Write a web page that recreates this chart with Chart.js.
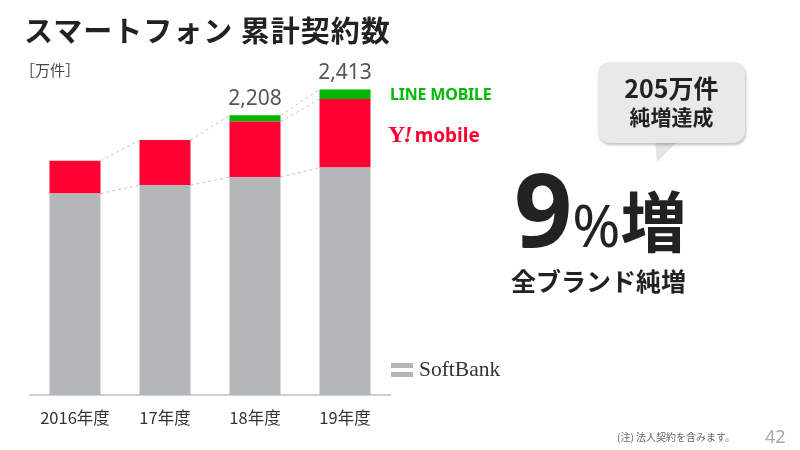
<!DOCTYPE html>
<html><head><meta charset="utf-8">
<script src="https://cdn.jsdelivr.net/npm/chart.js@4/dist/chart.umd.min.js"></script>
<style>
html,body{margin:0;padding:0;background:#fff;}
body{width:800px;height:450px;position:relative;overflow:hidden;font-family:"Noto Sans CJK JP","Noto Sans",sans-serif;color:#222;}
#c{position:absolute;left:0;top:0;}
.t{position:absolute;white-space:nowrap;line-height:1;}
#title{left:24px;top:15px;font-size:29px;font-weight:700;color:#222;letter-spacing:1px;}
#unit{left:20px;top:62px;font-size:15px;color:#444;}
#line{left:390px;top:86px;font-family:"Noto Sans",sans-serif;font-size:16px;font-weight:700;color:#00b900;letter-spacing:-0.2px;}
#ym{left:388px;top:122px;color:#ff0033;}
#ym .y{font-family:"Liberation Serif",serif;font-weight:700;font-size:24px;letter-spacing:-2px;}
#ym .ex{font-family:"Liberation Serif",serif;font-weight:700;font-style:italic;font-size:24px;margin-right:2px;}
#ym .m{font-family:"Noto Sans",sans-serif;font-weight:700;font-size:19px;}
#sbicon{position:absolute;left:391px;top:363px;width:22px;height:5px;background:#b4b7b9;box-shadow:0 9px 0 #b4b7b9;}
#sb{left:419px;top:359px;font-family:"Liberation Serif",serif;font-size:21.5px;color:#333;}
#bubble{position:absolute;left:598px;top:62px;width:147px;height:81px;background:#e9e9e9;border-radius:12px;box-shadow:1px 2px 3px rgba(0,0,0,0.25);}
#tail{position:absolute;left:653px;top:140px;width:26px;height:22px;background:#e4e4e4;clip-path:polygon(2px 0,26px 0,4px 22px);}
#b1{left:598px;width:147px;text-align:center;top:75px;font-size:25px;font-weight:700;color:#222;}
#b2{left:598px;width:147px;text-align:center;top:106px;font-size:21px;font-weight:700;color:#222;}
#big{left:514px;top:157px;font-weight:700;color:#222;font-family:"Noto Sans CJK JP",sans-serif;}
#big .n{font-size:102px;font-family:"Noto Sans",sans-serif;}
#big .p{font-size:58px;font-family:"Noto Sans",sans-serif;font-weight:400;}
#big .z{font-size:66px;}
#sub{left:511px;top:268px;font-size:25px;font-weight:700;color:#222;}
#note{left:617px;top:432px;font-size:10px;color:#666;}
#pg{left:765px;top:427px;font-size:18px;color:#aaa;font-family:"Noto Sans",sans-serif;}
</style></head>
<body>
<canvas id="c" width="800" height="450"></canvas>
<div class="t" id="title">スマートフォン 累計契約数</div>
<div class="t" id="unit">［万件］</div>
<div class="t" id="line">LINE MOBILE</div>
<div class="t" id="ym"><span class="y">Y</span><span class="ex">!</span><span class="m">mobile</span></div>
<div id="sbicon"></div>
<div class="t" id="sb">SoftBank</div>
<div id="tail"></div>
<div id="bubble"></div>
<div class="t" id="b1">205万件</div>
<div class="t" id="b2">純増達成</div>
<div class="t" id="big"><span class="n">9</span><span class="p">%</span><span class="z">増</span></div>
<div class="t" id="sub">全ブランド純増</div>
<div class="t" id="note">(注) 法人契約を含みます。</div>
<div class="t" id="pg">42</div>
<script>
const categories = ['2016年度', '17年度', '18年度', '19年度'];
const softbank = [1591, 1657, 1720, 1796];
const ymobile = [258, 356, 440, 541];
const lineMobile = [0, 0, 48, 76];
const totalLabels = [null, null, '2,208', '2,413'];

const connectors = {
  id: 'connectors',
  beforeDatasetsDraw(chart) {
    const ctx = chart.ctx, y = chart.scales.y;
    const m0 = chart.getDatasetMeta(0).data;
    ctx.save();
    ctx.strokeStyle = '#c4c4c4';
    ctx.lineWidth = 1;
    ctx.setLineDash([3, 3]);
    const seg = (i, v1, v2) => {
      const a = m0[i], b = m0[i + 1];
      ctx.beginPath();
      ctx.moveTo(a.x + a.width / 2, y.getPixelForValue(v1));
      ctx.lineTo(b.x - b.width / 2, y.getPixelForValue(v2));
      ctx.stroke();
    };
    for (let i = 0; i < categories.length - 1; i++) {
      seg(i, softbank[i], softbank[i + 1]);
      seg(i, softbank[i] + ymobile[i] + lineMobile[i], softbank[i + 1] + ymobile[i + 1] + lineMobile[i + 1]);
      if (lineMobile[i] > 0 && lineMobile[i + 1] > 0) {
        seg(i, softbank[i] + ymobile[i], softbank[i + 1] + ymobile[i + 1]);
      }
    }
    ctx.restore();
  },
  afterDatasetsDraw(chart) {
    const ctx = chart.ctx, y = chart.scales.y;
    const m0 = chart.getDatasetMeta(0).data;
    ctx.save();
    ctx.fillStyle = '#555';
    ctx.font = '21px "Noto Sans", sans-serif';
    ctx.textAlign = 'center';
    ctx.textBaseline = 'alphabetic';
    totalLabels.forEach((t, i) => {
      if (!t) return;
      const top = y.getPixelForValue(softbank[i] + ymobile[i] + lineMobile[i]);
      ctx.fillText(t, m0[i].x, top - 10);
    });
    ctx.restore();
  }
};

new Chart(document.getElementById('c'), {
  type: 'bar',
  data: {
    labels: categories,
    datasets: [
      { label: 'SoftBank', data: softbank, backgroundColor: '#b4b7b9' },
      { label: 'Y!mobile', data: ymobile, backgroundColor: '#ff0033' },
      { label: 'LINE MOBILE', data: lineMobile, backgroundColor: '#00b400' }
    ]
  },
  options: {
    responsive: false,
    animation: false,
    layout: { padding: { left: 30, right: 410, top: 15, bottom: 9 } },
    datasets: { bar: { categoryPercentage: 1, barPercentage: 0.567 } },
    plugins: { legend: { display: false }, tooltip: { enabled: false } },
    scales: {
      x: {
        stacked: true,
        grid: { display: false, drawTicks: false },
        border: { display: true, color: '#cfcfcf', width: 2 },
        ticks: { color: '#333', padding: 13, font: { size: 16.5, family: '"Noto Sans CJK JP", sans-serif' } }
      },
      y: { stacked: true, display: false, min: 0, max: 3000 }
    }
  },
  plugins: [connectors]
});
</script>
</body></html>
